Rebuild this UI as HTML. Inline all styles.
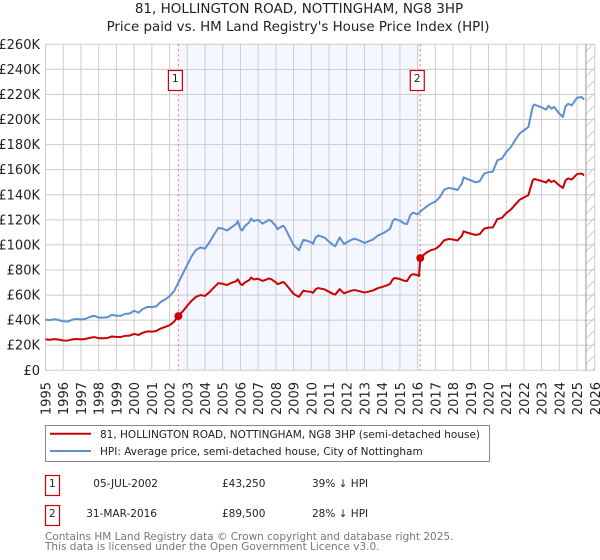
<!DOCTYPE html>
<html>
<head>
<meta charset="utf-8">
<style>
html,body{margin:0;padding:0;background:#fff;}
svg{display:block;}
text{font-family:"DejaVu Sans","Liberation Sans",sans-serif;fill:#222;}
</style>
</head>
<body>
<svg id="chart" xmlns="http://www.w3.org/2000/svg" width="600" height="560" viewBox="0 0 600 560">
<defs>
<pattern id="hatch" patternUnits="userSpaceOnUse" width="12.5" height="12.5">
<line x1="0" y1="12.5" x2="12.5" y2="0" stroke="#ccc" stroke-width="1"/>
</pattern>
</defs>
<text x="299" y="13" text-anchor="middle" font-size="13.5">81, HOLLINGTON ROAD, NOTTINGHAM, NG8 3HP</text>
<text x="298" y="31" text-anchor="middle" font-size="13.4">Price paid vs. HM Land Registry's House Price Index (HPI)</text>
<g id="plot"></g>

<g>
<rect x="45.5" y="425.5" width="444" height="36" fill="#fff" stroke="#888" stroke-width="1"/>
<line x1="50" y1="433.7" x2="91" y2="433.7" stroke="#cc0000" stroke-width="2"/>
<text x="100" y="438" font-size="10.5">81, HOLLINGTON ROAD, NOTTINGHAM, NG8 3HP (semi-detached house)</text>
<line x1="50" y1="451" x2="91" y2="451" stroke="#5f8fd0" stroke-width="2"/>
<text x="100" y="455" font-size="10.5">HPI: Average price, semi-detached house, City of Nottingham</text>
</g>

<g>
<rect x="45.5" y="475.5" width="14" height="20" fill="#fff" stroke="#cc0000" stroke-width="1.2"/>
<text x="52.3" y="487" text-anchor="middle" font-size="10.5">1</text>
<text x="158" y="487" text-anchor="end" font-size="10.5">05-JUL-2002</text>
<text x="222" y="487" font-size="10.5">£43,250</text>
<text x="312" y="487" font-size="10.5">39% ↓ HPI</text>
</g>
<g>
<rect x="45.5" y="505.5" width="14" height="20" fill="#fff" stroke="#cc0000" stroke-width="1.2"/>
<text x="52.3" y="517" text-anchor="middle" font-size="10.5">2</text>
<text x="157" y="517" text-anchor="end" font-size="10.5">31-MAR-2016</text>
<text x="222" y="517" font-size="10.5">£89,500</text>
<text x="312" y="517" font-size="10.5">28% ↓ HPI</text>
</g>
<text x="45" y="540" font-size="10.5" style="fill:#777">Contains HM Land Registry data © Crown copyright and database right 2025.</text>
<text x="45" y="550" font-size="10.5" style="fill:#777">This data is licensed under the Open Government Licence v3.0.</text>
</svg>

<script>
const yearTicks = [1995,1996,1997,1998,1999,2000,2001,2002,2003,2004,2005,2006,2007,2008,2009,2010,2011,2012,2013,2014,2015,2016,2017,2018,2019,2020,2021,2022,2023,2024,2025,2026];
const valueTicks = [0,20,40,60,80,100,120,140,160,180,200,220,240,260];
const valueTickLabels = ["£0","£20K","£40K","£60K","£80K","£100K","£120K","£140K","£160K","£180K","£200K","£220K","£240K","£260K"];
const dates = [1995,1995.25,1995.5,1995.75,1996,1996.25,1996.5,1996.75,1997,1997.25,1997.5,1997.75,1998,1998.25,1998.5,1998.75,1999,1999.25,1999.5,1999.75,2000,2000.25,2000.5,2000.75,2001,2001.25,2001.5,2001.75,2002,2002.25,2002.5,2002.75,2003,2003.25,2003.5,2003.75,2004,2004.25,2004.5,2004.75,2005,2005.25,2005.5,2005.75,2005.85,2006,2006.1,2006.25,2006.5,2006.6,2006.75,2007,2007.25,2007.5,2007.6,2007.75,2008,2008.1,2008.25,2008.4,2008.5,2008.75,2009,2009.3,2009.55,2009.75,2010,2010.1,2010.25,2010.4,2010.75,2011,2011.25,2011.35,2011.6,2011.85,2012,2012.25,2012.45,2012.75,2013,2013.25,2013.5,2013.75,2014,2014.25,2014.45,2014.6,2014.7,2015,2015.25,2015.4,2015.6,2015.75,2016,2016.08,2016.15,2016.25,2016.5,2016.75,2017,2017.25,2017.5,2017.75,2018,2018.25,2018.5,2018.6,2018.75,2019,2019.25,2019.5,2019.75,2020,2020.25,2020.5,2020.75,2021,2021.25,2021.5,2021.75,2022,2022.25,2022.5,2022.6,2022.75,2023,2023.25,2023.4,2023.55,2023.7,2024,2024.2,2024.35,2024.5,2024.7,2025,2025.25,2025.4];
const hpiValues = [40.4,40,40.7,40.1,39,38.9,40.3,41,40.5,41,42.5,43.5,42,42,42.3,44.3,43.5,43.5,45,45.3,47.5,46,49,50.5,50.5,51,54.5,56.5,59,63,70,77,84,91,96,98,97,102,108,113.5,113,111.5,114,116.5,119,113,111.5,115,118,121,119,120,117,119,120,119,115,112.5,114,115.3,114,107,100,95.7,104,103.4,102,101,106,107.6,105.8,102.6,99.7,99,106,100.7,102,104,105,103.4,101.5,103,104.5,107.4,109,111,113,119,120.7,119.3,117,116.7,124,125.7,124.4,125.5,126.5,127.8,130.5,133,134.5,138,144,145.4,144.9,143.8,149,154,152.8,151.5,150,150.7,156.8,158,158.4,167.5,168.8,174,177.8,183.4,188.7,191.4,194,210.5,212,211,209.7,207.9,211,208.6,210,204.7,202,210.5,212.6,211.3,217.4,218,216];
const paidValues = [24.7,24.4,24.9,24.5,23.8,23.7,24.6,25,24.7,25,25.9,26.5,25.6,25.6,25.8,27,26.7,26.6,27.5,27.7,29,28.2,30,31,30.8,31.3,33.3,34.6,36,38.7,43.25,47,51.5,55.5,58.7,60,59.3,62.3,66,69.5,69,68,69.8,71,72.6,69,68,70,72,74,72.5,73,71.3,72.6,73.3,72.6,70.2,68.7,69.5,70.4,69.6,65.3,61,58.5,63.5,63,62.5,61.8,64.7,65.6,64.5,62.6,60.8,60.4,64.7,61.4,62.2,63.5,64,63,62,62.8,63.8,65.5,66.5,67.7,69,72.6,73.6,72.8,71.4,71.2,75.6,76.7,75.9,75.2,89.5,91,93.9,95.8,96.8,99.4,103.7,104.7,104.3,103.5,107.3,110.9,110,109,108,108.5,112.9,113.8,114,120.6,121.5,125.3,128,132,135.9,137.8,139.7,151.6,152.6,151.9,151,149.7,152,150.2,151.2,147.4,145.4,151.6,153,152.1,156.5,157,155.5];
const saleDates = [2002.5,2016.15];
const saleValues = [43.25,89.5];
const saleLabels = ["1","2"];
const dataEndDate = 2025.5;

const NS = "http://www.w3.org/2000/svg";
const plot = document.getElementById("plot");
function xScale(year){ return 45.5 + (year - 1995) * (549.3 / 31); }
function yScale(value){ return 370.3 - value * (326 / 260); }
function make(tag, attrs, parent){
  const el = document.createElementNS(NS, tag);
  for (const k in attrs) el.setAttribute(k, attrs[k]);
  (parent || plot).appendChild(el);
  return el;
}
const xMin = xScale(yearTicks[0]);
const xMax = xScale(yearTicks[yearTicks.length - 1]);
const yTop = yScale(valueTicks[valueTicks.length - 1]);
const yBottom = yScale(valueTicks[0]);

const shade = make("rect", {x: xScale(saleDates[0]), y: yTop, width: xScale(saleDates[1]) - xScale(saleDates[0]), height: yBottom - yTop, fill: "#f4f7ff"});



valueTicks.forEach(function(v, i){
  const g = make("line", {x1: xMin, x2: xMax, y1: yScale(v), y2: yScale(v), stroke: "#ccc", "stroke-width": 1});
  
  
  const t = make("text", {x: 40, y: yScale(v) + 4.5, "text-anchor": "end", "font-size": 13});
  
  
  t.textContent = valueTickLabels[i];
});
yearTicks.forEach(function(y){
  const g = make("line", {x1: xScale(y), x2: xScale(y), y1: yTop, y2: yBottom, stroke: "#ccc", "stroke-width": 1});
  
  
  const tx = xScale(y) + 5;
  const t = make("text", {x: tx, y: 382, "text-anchor": "end", "font-size": 13, transform: "rotate(-90 " + tx + " 382)"});
  
  
  t.textContent = String(y);
});

const hatch = make("rect", {x: xScale(dataEndDate), y: yTop, width: xMax - xScale(dataEndDate), height: yBottom - yTop, fill: "url(#hatch)"});


const endLine = make("line", {x1: xScale(dataEndDate), x2: xScale(dataEndDate), y1: yTop, y2: yBottom, stroke: "#999", "stroke-width": 1});



saleDates.forEach(function(d){
  const l = make("line", {x1: xScale(d), x2: xScale(d), y1: yTop, y2: yBottom, stroke: "#ff6b78", "stroke-width": 1, "stroke-dasharray": "2,3"});
  
  
});

function pathFrom(values){
  return values.map(function(v, i){
    return (i ? "L" : "M") + xScale(dates[i]).toFixed(2) + " " + yScale(v).toFixed(2);
  }).join(" ");
}
const hpiLine = make("path", {d: pathFrom(hpiValues), fill: "none", stroke: "#5f8fd0", "stroke-width": 2, "stroke-linejoin": "round"});


const paidLine = make("path", {d: pathFrom(paidValues), fill: "none", stroke: "#cc0000", "stroke-width": 2, "stroke-linejoin": "round"});



saleDates.forEach(function(d, i){
  const c = make("circle", {cx: xScale(d), cy: yScale(saleValues[i]), r: 4, fill: "#cc0000"});
  
  
  const bx = xScale(d) - 10;
  const b = make("rect", {x: bx, y: 70.5, width: 14, height: 20, fill: "#fff", stroke: "#cc0000", "stroke-width": 1.2});
  
  
  const t = make("text", {x: bx + 7, y: 82, "text-anchor": "middle", "font-size": 10.5});
  
  
  t.textContent = saleLabels[i];
});
</script>
</body>
</html>
